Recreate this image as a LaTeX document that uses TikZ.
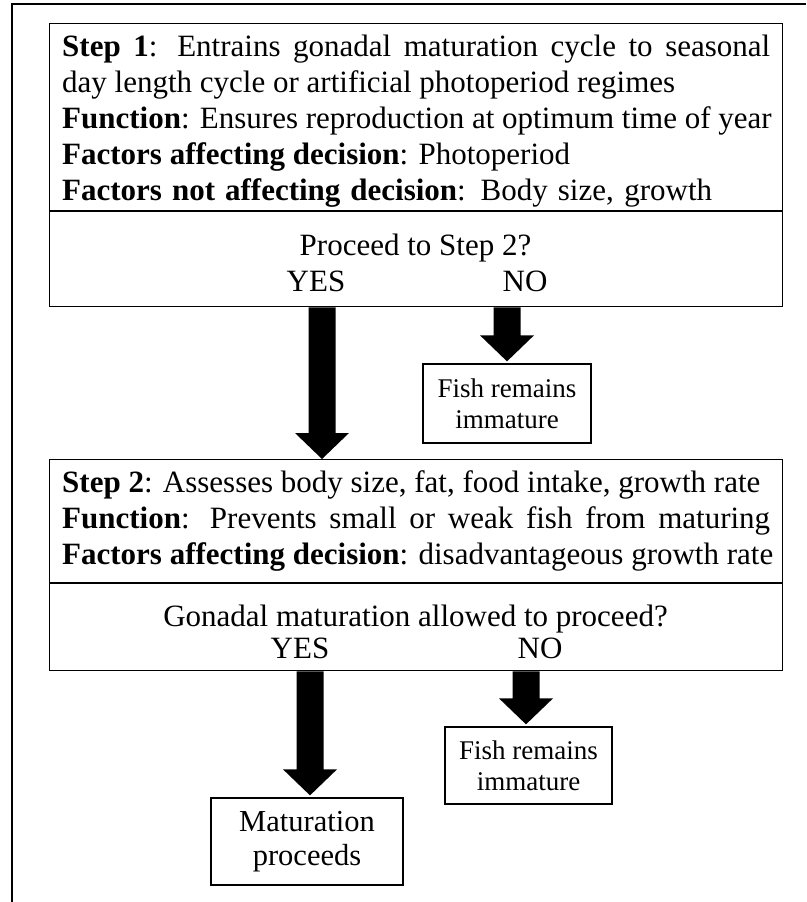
\documentclass[tikz,border=0pt]{standalone}
\usepackage{fontspec}
\setmainfont{Liberation Serif}
\usetikzlibrary{calc}
\newcommand\blockarr[2]{\fill ($(#1)+(-13.5,0)$) -- ($(#2)+(-13.5,-26)$) -- ($(#2)+(-27,-26)$) -- (#2) -- ($(#2)+(27,-26)$) -- ($(#2)+(13.5,-26)$) -- ($(#1)+(13.5,0)$) -- cycle;}
\begin{document}
\begin{tikzpicture}[x=1pt,y=-1pt,
  box/.style={draw, line width=1.3pt, rectangle, inner sep=0pt, anchor=north west},
  txt/.style={anchor=base west, inner sep=0pt, font=\fontsize{31}{36}\selectfont},
  ctxt/.style={anchor=base, inner sep=0pt, font=\fontsize{31}{36}\selectfont},
  endbox/.style={draw, line width=1.3pt, rectangle, align=center, inner sep=0pt, font=\fontsize{27}{31}\selectfont},
  line/.style={line width=1.3pt}]
\useasboundingbox (0,0) rectangle (806,902);
% outer frame
\coordinate (fa) at (12,902);
\coordinate (fb) at (12,4);
\coordinate (fc) at (806,4);
\draw[line width=1.5pt] (fa) -- (fb) -- (fc);
% step 1 box
\node[box, minimum width=733pt, minimum height=283pt] (s1) at (49,23) {};
\coordinate (d1) at (0,211);
\draw[line] (s1.west |- d1) -- (s1.east |- d1);
\node[txt] (s1l1) at (62,56) {\makebox[708pt][s]{\textbf{Step 1}: Entrains gonadal maturation cycle to seasonal}};
\node[txt] (s1l2) at (62,92) {day length cycle or artificial photoperiod regimes};
\node[txt] (s1l3) at (62,128) {\textbf{Function}: Ensures reproduction at optimum time of year};
\node[txt] (s1l4) at (62,164) {\textbf{Factors affecting decision}: Photoperiod};
\node[txt] (s1l5) at (62,200) {\makebox[650pt][s]{\textbf{Factors not affecting decision}: Body size, growth}};
\node[ctxt] (q1) at (415.5,255) {Proceed to Step 2?};
\node[ctxt] (yes1) at (316,291) {YES};
\node[ctxt] (no1) at (525,291) {NO};
% step 2 box
\node[box, minimum width=733pt, minimum height=211pt] (s2) at (49,459) {};
\coordinate (d2) at (0,583);
\draw[line] (s2.west |- d2) -- (s2.east |- d2);
\node[txt] (s2l1) at (62,492) {\textbf{Step 2}: Assesses body size, fat, food intake, growth rate};
\node[txt] (s2l2) at (62,528) {\makebox[708pt][s]{\textbf{Function}: Prevents small or weak fish from maturing}};
\node[txt] (s2l3) at (62,564) {\textbf{Factors affecting decision}: disadvantageous growth rate};
\node[ctxt] (q2) at (415.5,626) {Gonadal maturation allowed to proceed?};
\node[ctxt] (yes2) at (300,658) {YES};
\node[ctxt] (no2) at (540,658) {NO};
% end boxes
\node[endbox, minimum width=168pt, minimum height=79pt] (f1) at (507,403.5) {Fish remains\\immature};
\node[endbox, minimum width=167pt, minimum height=77pt] (f2) at (528.5,765.5) {Fish remains\\immature};
\node[endbox, minimum width=192pt, minimum height=87pt, font=\fontsize{30.5}{34.5}\selectfont] (m) at (307,841.5) {Maturation\\proceeds};
% arrows
\coordinate (x1) at (322,0);
\coordinate (x3) at (310,0);
\coordinate (x4) at (526,0);
\coordinate (a1s) at (s1.south -| x1);
\coordinate (a1e) at (s2.north -| x1);
\blockarr{a1s}{a1e}
\coordinate (a2s) at (s1.south -| f1.north);
\coordinate (a2e) at ($(f1.north)+(0,-2)$);
\blockarr{a2s}{a2e}
\coordinate (a3s) at (s2.south -| x3);
\coordinate (a3e) at ($(m.north -| x3)+(0,-2)$);
\blockarr{a3s}{a3e}
\coordinate (a4s) at (s2.south -| x4);
\coordinate (a4e) at ($(f2.north -| x4)+(0,-2)$);
\blockarr{a4s}{a4e}
\end{tikzpicture}
\end{document}
